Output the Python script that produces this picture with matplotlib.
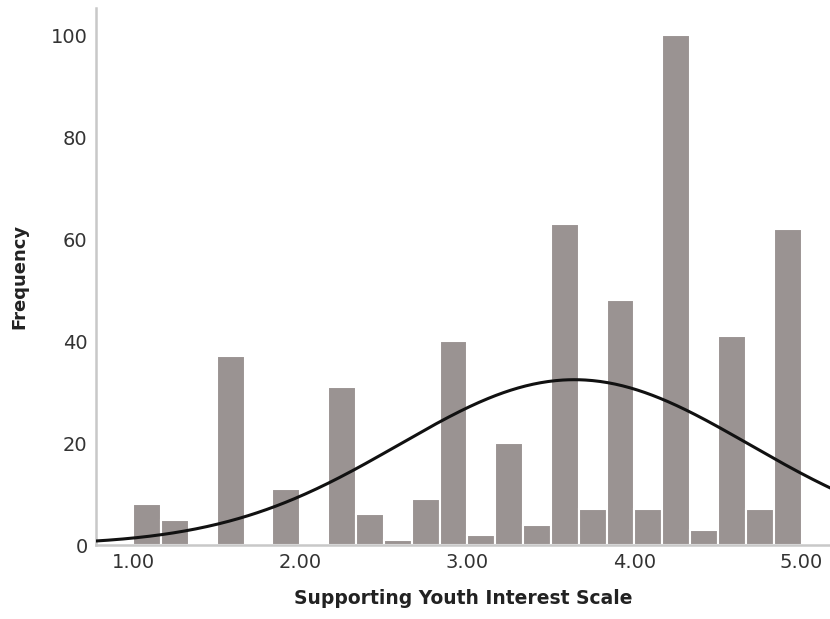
import numpy as np
import matplotlib
matplotlib.use("Agg")
import matplotlib.pyplot as plt

# Histogram bins (left edges) and frequencies
bin_width = 1 / 6
bin_lefts = [1.0 + i / 6 for i in range(24)]
counts = [8, 5, 0, 37, 0, 11, 0, 31, 6, 1, 9, 40,
          2, 20, 4, 63, 7, 48, 7, 100, 3, 41, 7, 62]

# Normal curve parameters
mean_val = 3.64
sd_val = 1.05
n_total = sum(counts)

xticks = [1.0, 2.0, 3.0, 4.0, 5.0]
xticklabels = ["1.00", "2.00", "3.00", "4.00", "5.00"]
yticks = [0, 20, 40, 60, 80, 100]

fig = plt.figure(figsize=(8.3, 6.19), dpi=100)
ax = fig.add_axes([0.1157, 0.1195, 0.8843, 0.8675])

ax.bar(bin_lefts, counts, width=bin_width, align="edge",
       color="#9a9392", edgecolor="white", linewidth=1.5, zorder=2)

xs = np.linspace(0.75, 5.2, 400)
ys = n_total * bin_width / (sd_val * np.sqrt(2 * np.pi)) * np.exp(-0.5 * ((xs - mean_val) / sd_val) ** 2)
ax.plot(xs, ys, color="#111111", linewidth=2.2, zorder=3)

ax.set_xlim(0.778, 5.17)
ax.set_ylim(0, 105.3)
ax.set_xticks(xticks)
ax.set_xticklabels(xticklabels)
ax.set_yticks(yticks)
ax.tick_params(axis="both", length=0, labelsize=14, colors="#333333", pad=6)

for s in ["top", "right"]:
    ax.spines[s].set_visible(False)
for s in ["left", "bottom"]:
    ax.spines[s].set_color("#c8c8c8")
    ax.spines[s].set_linewidth(1.8)

ax.set_xlabel("Supporting Youth Interest Scale", fontsize=13.5, fontweight="bold",
              color="#222222", labelpad=12)
ax.set_ylabel("Frequency", fontsize=13, fontweight="bold", color="#222222", labelpad=16)

fig.savefig("out.png", dpi=100)
